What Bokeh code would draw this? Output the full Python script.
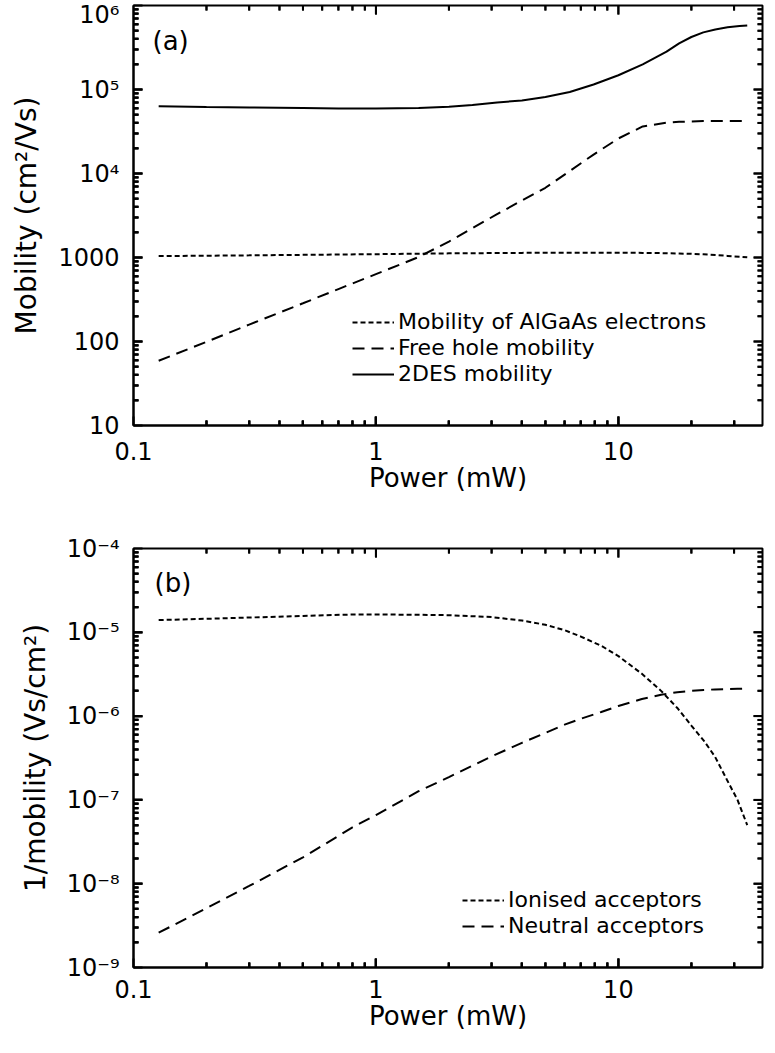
import math
from bokeh.plotting import figure
from bokeh.models import FixedTicker, Legend, LegendItem, Label, Range1d, Arrow, ColumnDataSource
from bokeh.layouts import column
from bokeh.embed import file_html
from bokeh.resources import INLINE

# ---------------- data ----------------
power_a = [0.127, 0.2, 0.3, 0.5, 0.7, 1, 1.5, 2, 2.5, 3.16, 4, 5, 6.3, 7.9, 10, 12.6,
           15.8, 17.8, 20, 22.4, 25.1, 28.2, 31.6, 34]
mobility_algaas = [1040, 1050, 1060, 1075, 1085, 1095, 1110, 1120, 1125, 1130, 1135, 1140,
                   1140, 1140, 1140, 1135, 1125, 1115, 1105, 1090, 1070, 1045, 1020, 1005]
mobility_hole = [59, 99, 159, 285, 421, 634, 1012, 1549, 2239, 3281, 4775, 6761, 10700,
                 16800, 26100, 36300, 40300, 41200, 41700, 42100, 42100, 42100, 42100, 42100]
mobility_2des = [63100, 61700, 61000, 60300, 59600, 59600, 60300, 62400, 65300, 70000,
                 74100, 81300, 93300, 114800, 147900, 199500, 281800, 354800, 421700,
                 478600, 518800, 549500, 568900, 578100]

power_b = [0.127, 0.2, 0.3, 0.5, 0.8, 1, 1.5, 2, 3, 4, 5, 6, 7, 8.5, 10, 12.5, 15, 17.5,
           20, 22.5, 25, 28, 31, 34]
inv_ionised = [1.4e-5, 1.45e-5, 1.5e-5, 1.57e-5, 1.63e-5, 1.63e-5, 1.62e-5, 1.6e-5,
               1.52e-5, 1.38e-5, 1.23e-5, 1.06e-5, 8.9e-6, 6.9e-6, 5.2e-6, 3.2e-6, 2.0e-6,
               1.25e-6, 7.7e-7, 5.1e-7, 3.3e-7, 1.75e-7, 1.0e-7, 5.0e-8]
inv_neutral = [2.6e-9, 5.1e-9, 9.4e-9, 2.06e-8, 4.7e-8, 6.6e-8, 1.27e-7, 1.87e-7, 3.3e-7,
               4.8e-7, 6.3e-7, 7.9e-7, 9.3e-7, 1.12e-6, 1.32e-6, 1.6e-6, 1.8e-6, 1.93e-6,
               2.0e-6, 2.05e-6, 2.08e-6, 2.1e-6, 2.12e-6, 2.13e-6]

x_major = [0.1, 1, 10]
x_labels = ["0.1", "1", "10"]
ya_major = [10, 100, 1000, 1e4, 1e5, 1e6]
ya_labels = ["10", "100", "1000", "10\u2074", "10\u2075", "10\u2076"]
yb_major = [1e-9, 1e-8, 1e-7, 1e-6, 1e-5, 1e-4]
yb_labels = ["10\u207b\u2079", "10\u207b\u2078", "10\u207b\u2077", "10\u207b\u2076",
             "10\u207b\u2075", "10\u207b\u2074"]

FONT = "DejaVu Sans"
X_RANGE = (0.1, 39.3)
MAJOR_LEN, MINOR_LEN, TICK_W = 9, 5, 2


def minors(majors):
    out = []
    for m in majors[:-1]:
        out += [m * k for k in range(2, 10)]
    return out


x_minor = minors(x_major) + [20, 30]


def style_axis(ax, major, minor, labels):
    ax.ticker = FixedTicker(ticks=major, minor_ticks=minor)
    ax.axis_line_color = "black"
    ax.axis_line_width = 2
    ax.major_tick_line_color = "black"
    ax.minor_tick_line_color = "black"
    ax.major_tick_line_width = TICK_W
    ax.minor_tick_line_width = TICK_W
    ax.major_tick_in = MAJOR_LEN
    ax.major_tick_out = 0
    ax.minor_tick_in = MINOR_LEN
    ax.minor_tick_out = 0
    ax.major_label_overrides = dict(zip(major, labels))
    ax.major_label_text_font = FONT
    ax.major_label_text_font_size = "24px"
    ax.major_label_text_color = "black"
    ax.axis_label_text_font = FONT
    ax.axis_label_text_font_style = "normal"
    ax.axis_label_text_color = "black"


def add_ticks(p, yr, frame_w, frame_h, xmaj, xmin, ymaj, ymin):
    # inward tick marks on the four frame sides; pixel lengths converted to
    # log-axis factors with the frame size
    px_x = frame_w / math.log10(X_RANGE[1] / X_RANGE[0])
    px_y = frame_h / math.log10(yr[1] / yr[0])
    x0, x1, y0, y1 = [], [], [], []
    for vals, ln in ((xmaj[1:], MAJOR_LEN), (xmin, MINOR_LEN)):
        f = 10 ** (ln / px_y)
        for v in vals:
            x0 += [v, v]
            x1 += [v, v]
            y0 += [yr[0], yr[1]]
            y1 += [yr[0] * f, yr[1] / f]
    for vals, ln in ((ymaj[1:-1], MAJOR_LEN), (ymin, MINOR_LEN)):
        f = 10 ** (ln / px_x)
        for v in vals:
            x0 += [X_RANGE[0], X_RANGE[1]]
            x1 += [X_RANGE[0] * f, X_RANGE[1] / f]
            y0 += [v, v]
            y1 += [v, v]
    src = ColumnDataSource(dict(x0=x0, y0=y0, x1=x1, y1=y1))
    p.segment(x0="x0", y0="y0", x1="x1", y1="y1", source=src, line_color="black",
              line_width=TICK_W, level="overlay")
    p.add_layout(Arrow(end=None, start=None, x_start="x0", y_start="y0", x_end="x1",
                       y_end="y1", source=src, line_color="black", line_width=TICK_W))


def make_panel(yr, ymajor, ylabels, ytitle, width, height, borders, xstandoff):
    p = figure(width=width, height=height, x_axis_type="log", y_axis_type="log",
               x_range=Range1d(*X_RANGE), y_range=Range1d(*yr),
               output_backend="svg", toolbar_location=None,
               min_border_left=borders[0], min_border_right=borders[1],
               min_border_top=borders[2], min_border_bottom=borders[3])
    p.grid.visible = False
    p.outline_line_color = "black"
    p.outline_line_width = 2
    p.background_fill_color = None
    p.border_fill_color = None
    style_axis(p.xaxis[0], x_major, x_minor, x_labels)
    style_axis(p.yaxis[0], ymajor, minors(ymajor), ylabels)
    p.xaxis[0].axis_label = "Power (mW)"
    p.xaxis[0].axis_label_text_font_size = "26px"
    p.xaxis[0].major_label_standoff = xstandoff
    p.xaxis[0].axis_label_standoff = 0
    p.yaxis[0].axis_label = ytitle
    p.yaxis[0].axis_label_text_font_size = "28px"
    p.yaxis[0].major_label_standoff = 14
    p.yaxis[0].axis_label_standoff = 12
    frame_w = width - borders[0] - borders[1]
    frame_h = height - borders[2] - borders[3]
    add_ticks(p, yr, frame_w, frame_h, x_major, x_minor, ymajor, minors(ymajor))
    return p


def add_legend_rows(p, entries, x0, y_offsets):
    for (label, rend), yo in zip(entries, y_offsets):
        leg = Legend(items=[LegendItem(label=label, renderers=[rend])],
                     location=(x0, yo), glyph_width=42, glyph_height=24, label_height=24,
                     spacing=0, padding=0, margin=0, label_standoff=4,
                     label_text_font=FONT, label_text_font_size="22px",
                     label_text_color="black", background_fill_alpha=0,
                     border_line_alpha=0)
        p.add_layout(leg)


# ---------------- panel (a) ----------------
p1 = make_panel((10, 1e6), ya_major, ya_labels, "Mobility (cm\u00b2/Vs)",
                767, 501, (126, 5, 5, 76), 16)
r_al = p1.line(power_a, mobility_algaas, line_color="black", line_width=2, line_dash="5 3")
r_ho = p1.line(power_a, mobility_hole, line_color="black", line_width=2, line_dash="12 7")
r_2d = p1.line(power_a, mobility_2des, line_color="black", line_width=2)
add_legend_rows(p1, [("Mobility of AlGaAs electrons", r_al),
                     ("Free hole mobility", r_ho),
                     ("2DES mobility", r_2d)], 219, [91, 65, 39])
p1.add_layout(Label(x=19, y=385, x_units="screen", y_units="screen", text="(a)",
                    text_font=FONT, text_font_size="26px", text_baseline="middle",
                    text_color="black"))

# ---------------- panel (b) ----------------
p2 = make_panel((1e-9, 1e-4), yb_major, yb_labels, "1/mobility (Vs/cm\u00b2)",
                767, 536, (133, 0, 47, 70), 12)
r_io = p2.line(power_b, inv_ionised, line_color="black", line_width=2, line_dash="5 3")
r_ne = p2.line(power_b, inv_neutral, line_color="black", line_width=2, line_dash="12 7")
add_legend_rows(p2, [("Ionised acceptors", r_io),
                     ("Neutral acceptors", r_ne)], 329, [55, 29])
p2.add_layout(Label(x=21, y=385, x_units="screen", y_units="screen", text="(b)",
                    text_font=FONT, text_font_size="26px", text_baseline="middle",
                    text_color="black"))

layout = column(p1, p2)
open("out.html", "w").write(file_html(layout, INLINE))
